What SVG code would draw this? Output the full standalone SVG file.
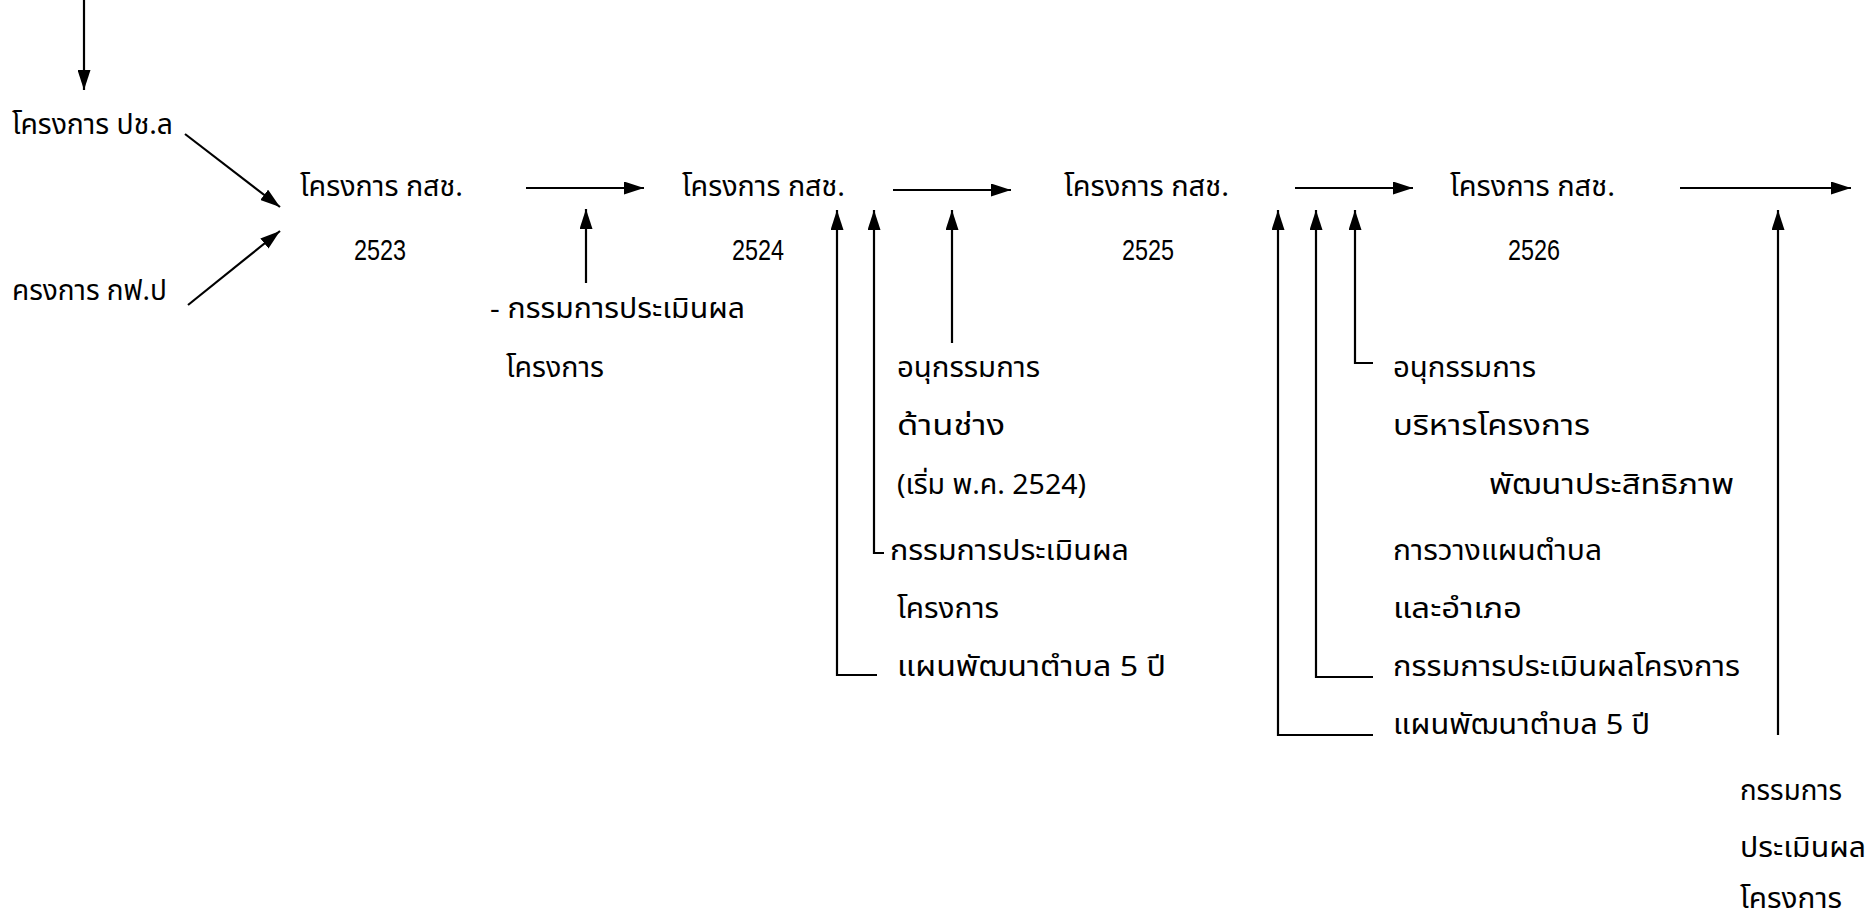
<svg xmlns="http://www.w3.org/2000/svg" width="1875" height="923" viewBox="0 0 1875 923">
<defs>
<style>
text{font-family:"Noto Sans Thai","Noto Sans","Liberation Sans",sans-serif;font-size:28px;fill:#000}
.n{font-family:"Liberation Sans",sans-serif;font-size:30px;text-anchor:middle}
.c line,.c polyline{stroke:#000;stroke-width:2.2;fill:none;marker-end:url(#ah)}
</style>
<marker id="ah" markerUnits="userSpaceOnUse" markerWidth="20" markerHeight="13" refX="20" refY="6.5" orient="auto">
<path d="M0,0 L20,6.5 L0,13 z" fill="#000"/>
</marker>
</defs>
<rect width="1875" height="923" fill="#fff"/>
<g id="src1"><text x="12" y="134" textLength="161" lengthAdjust="spacingAndGlyphs">โครงการ ปช.ล</text></g>
<g id="src2"><text x="12" y="300" textLength="155" lengthAdjust="spacingAndGlyphs">ครงการ กฟ.ป</text></g>
<g id="n2523"><text x="300" y="196" textLength="163" lengthAdjust="spacingAndGlyphs">โครงการ กสช.</text><text class="n" x="380" y="260" textLength="52" lengthAdjust="spacingAndGlyphs">2523</text></g>
<g id="n2524"><text x="682" y="196" textLength="163" lengthAdjust="spacingAndGlyphs">โครงการ กสช.</text><text class="n" x="758" y="260" textLength="52" lengthAdjust="spacingAndGlyphs">2524</text></g>
<g id="n2525"><text x="1064" y="196" textLength="165" lengthAdjust="spacingAndGlyphs">โครงการ กสช.</text><text class="n" x="1148" y="260" textLength="52" lengthAdjust="spacingAndGlyphs">2525</text></g>
<g id="n2526"><text x="1450" y="196" textLength="165" lengthAdjust="spacingAndGlyphs">โครงการ กสช.</text><text class="n" x="1534" y="260" textLength="52" lengthAdjust="spacingAndGlyphs">2526</text></g>
<g id="l1"><text x="490" y="318" textLength="255" lengthAdjust="spacingAndGlyphs">- กรรมการประเมินผล</text><text x="506" y="377" textLength="98" lengthAdjust="spacingAndGlyphs">โครงการ</text></g>
<g id="l2"><text x="897" y="377" textLength="143" lengthAdjust="spacingAndGlyphs">อนุกรรมการ</text><text x="897" y="435" textLength="108" lengthAdjust="spacingAndGlyphs">ด้านช่าง</text><text x="897" y="494" textLength="189" lengthAdjust="spacingAndGlyphs">(เริ่ม พ.ค. 2524)</text></g>
<g id="l3"><text x="890" y="560" textLength="239" lengthAdjust="spacingAndGlyphs">กรรมการประเมินผล</text><text x="897" y="618" textLength="102" lengthAdjust="spacingAndGlyphs">โครงการ</text></g>
<g id="l4"><text x="897" y="676" textLength="269" lengthAdjust="spacingAndGlyphs">แผนพัฒนาตำบล 5 ปี</text></g>
<g id="l5"><text x="1393" y="377" textLength="143" lengthAdjust="spacingAndGlyphs">อนุกรรมการ</text><text x="1393" y="435" textLength="197" lengthAdjust="spacingAndGlyphs">บริหารโครงการ</text><text x="1489" y="494" textLength="245" lengthAdjust="spacingAndGlyphs">พัฒนาประสิทธิภาพ</text><text x="1393" y="560" textLength="209" lengthAdjust="spacingAndGlyphs">การวางแผนตำบล</text><text x="1393" y="618" textLength="129" lengthAdjust="spacingAndGlyphs">และอำเภอ</text></g>
<g id="l6"><text x="1393" y="676" textLength="347" lengthAdjust="spacingAndGlyphs">กรรมการประเมินผลโครงการ</text></g>
<g id="l7"><text x="1393" y="734" textLength="257" lengthAdjust="spacingAndGlyphs">แผนพัฒนาตำบล 5 ปี</text></g>
<g id="l8"><text x="1740" y="800" textLength="102" lengthAdjust="spacingAndGlyphs">กรรมการ</text><text x="1740" y="857" textLength="126" lengthAdjust="spacingAndGlyphs">ประเมินผล</text><text x="1740" y="908" textLength="102" lengthAdjust="spacingAndGlyphs">โครงการ</text></g>
<g id="connectors" class="c">
<line x1="84" y1="0" x2="84" y2="90"/>
<line x1="185" y1="134" x2="280" y2="207"/>
<line x1="188" y1="305" x2="280" y2="231"/>
<line x1="526" y1="188" x2="644" y2="188"/>
<line x1="586" y1="283" x2="586" y2="209"/>
<line x1="893" y1="190" x2="1011" y2="190"/>
<line x1="1295" y1="188" x2="1413" y2="188"/>
<line x1="1680" y1="188" x2="1851" y2="188"/>
<polyline points="877,675 837,675 837,210"/>
<polyline points="884,553 874,553 874,210"/>
<line x1="952" y1="343" x2="952" y2="210"/>
<polyline points="1373,735 1278,735 1278,210"/>
<polyline points="1373,677 1316,677 1316,210"/>
<polyline points="1373,363 1355,363 1355,210"/>
<line x1="1778" y1="735" x2="1778" y2="210"/>
</g>
</svg>
